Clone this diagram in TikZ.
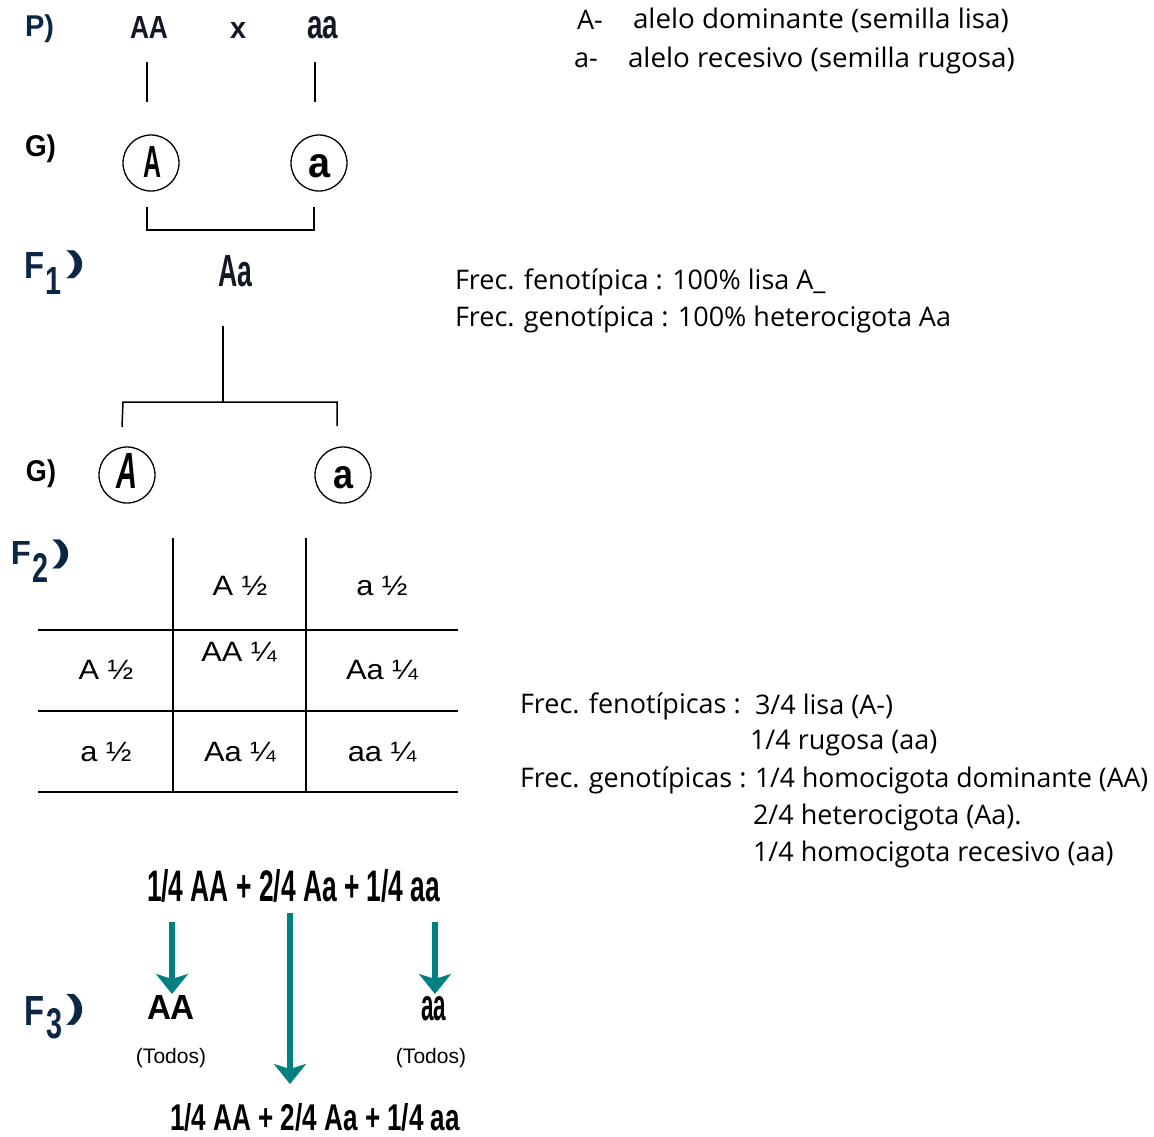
\documentclass[tikz,border=0pt]{standalone}
\usepackage{fontspec}
\usepackage{graphicx}
\setmainfont{Liberation Sans}
\setsansfont{Liberation Sans}
\newfontfamily\comic{Open Sans}
\usetikzlibrary{arrows.meta}
\definecolor{navy}{RGB}{12,38,70}
\definecolor{darkt}{RGB}{18,24,36}
\definecolor{teal2}{RGB}{0,128,128}
\newcommand{\fitb}[3]{\resizebox{#1pt}{#2pt}{\bfseries #3}}
\newcommand{\fitt}[3]{\resizebox*{#1pt}{#2pt}{\bfseries #3}}
\newcommand{\tb}[1]{\scalebox{1.1}[1]{#1}}
\tikzset{
  lbl/.style={inner sep=0pt, outer sep=0pt, anchor=north west},
  rtxt/.style={inner sep=0pt, outer sep=0pt, anchor=west, font=\comic\fontsize{27}{27}\selectfont},
  tcell/.style={inner sep=0pt, outer sep=0pt, anchor=center, font=\fontsize{28}{28}\selectfont},
  gam/.style={circle, draw, line width=1.3pt, minimum size=56pt, inner sep=0pt},
  thin/.style={line width=1.5pt},
  tarr/.style={draw=teal2, line width=6pt, -{Stealth[length=20pt,width=32pt,inset=5pt]}}
}
\begin{document}
\begin{tikzpicture}[x=1pt,y=-1pt]
\path[use as bounding box, fill=white] (0,0) rectangle (1154,1136);

% ---- P row
\node[lbl, text=navy] (P) at (25,15) {\fitt{29}{28}{P)}};
\node[lbl, text=darkt] (PAA) at (130,16) {\fitb{38}{22}{AA}};
\node[lbl, text=darkt] (Px) at (230,22) {\fitb{16}{16}{x}};
\node[lbl, text=darkt] (Paa) at (307,16) {\fitb{31}{22}{aa}};
\coordinate (p1t) at (147,62); \coordinate (p1b) at (147,102);
\coordinate (p2t) at (315,62); \coordinate (p2b) at (315,102);
\draw[thin] (p1t) -- (p1b);
\draw[thin] (p2t) -- (p2b);

% ---- G row 1
\node[lbl] (G1) at (25,135) {\fitt{31}{28}{G)}};
\node[gam] (cA1) at (151,163) {};
\node[gam] (ca1) at (319,163) {};
\node[lbl] (A1) at (143,146) {\fitb{18}{31}{A}};
\node[lbl] (a1) at (308,154) {\fitb{22}{23}{a}};
\coordinate (b1) at (147,207); \coordinate (b2) at (147,230);
\coordinate (b3) at (314,230); \coordinate (b4) at (314,207);
\draw[thin] (b1) -- (b2) -- (b3) -- (b4);

% ---- F1
\node[lbl, text=navy] (F1F) at (25,252) {\fitb{20}{26}{F}};
\node[lbl, text=navy] (F1n) at (45,267) {\fitb{16}{27}{1}};
\node[lbl, text=navy] (F1p) at (66,251) {\fitt{19}{28}{)}};
\node[lbl, text=darkt] (Aa) at (218,255) {\fitb{34}{31}{Aa}};
\coordinate (v1) at (223,326); \coordinate (v2) at (223,402);
\coordinate (hl) at (123,402); \coordinate (hr) at (337,402);
\coordinate (dl) at (122,427); \coordinate (dr) at (337,426);
\draw[thin] (v1) -- (v2);
\draw[thin] (dl) -- (hl) -- (hr) -- (dr);

% ---- G row 2
\node[lbl] (G2) at (26,460) {\fitt{30}{28}{G)}};
\node[gam] (cA2) at (127,475) {};
\node[gam] (ca2) at (343,475) {};
\node[lbl] (A2) at (116,453) {\fitb{21}{35}{\itshape A}};
\node[lbl] (a2) at (333,466) {\fitb{20}{22}{a}};

% ---- F2 and table
\node[lbl, text=navy] (F2F) at (11,541) {\fitb{20}{23}{F}};
\node[lbl, text=navy] (F2n) at (32,553) {\fitb{16}{29}{2}};
\node[lbl, text=navy] (F2p) at (52,540) {\fitt{19}{29}{)}};
\coordinate (t1a) at (173,538); \coordinate (t1b) at (173,792);
\coordinate (t2a) at (306,538); \coordinate (t2b) at (306,792);
\coordinate (r1a) at (38,630); \coordinate (r1b) at (458,630);
\coordinate (r2a) at (38,711); \coordinate (r2b) at (458,711);
\coordinate (r3a) at (38,792); \coordinate (r3b) at (458,792);
\draw[thin] (t1a) -- (t1b);
\draw[thin] (t2a) -- (t2b);
\draw[thin] (r1a) -- (r1b);
\draw[thin] (r2a) -- (r2b);
\draw[thin] (r3a) -- (r3b);
\node[tcell] (h1) at (240,586) {\tb{A ½}};
\node[tcell] (h2) at (382,586) {\tb{a ½}};
\node[tcell] (s1) at (106,670) {\tb{A ½}};
\node[tcell] (c11) at (239,652) {\tb{AA ¼}};
\node[tcell] (c12) at (382,670) {\tb{Aa ¼}};
\node[tcell] (s2) at (106,752) {\tb{a ½}};
\node[tcell] (c21) at (240,752) {\tb{Aa ¼}};
\node[tcell] (c22) at (382,752) {\tb{aa ¼}};

% ---- F3
\node[lbl] (eq1) at (147,869) {\fitb{293}{32}{1/4 AA + 2/4 Aa + 1/4 aa}};
\coordinate (a1s) at (172,922); \coordinate (a1e) at (172,994);
\coordinate (a2s) at (290,913); \coordinate (a2e) at (290,1084);
\coordinate (a3s) at (435,922); \coordinate (a3e) at (435,994);
\draw[tarr] (a1s) -- (a1e);
\draw[tarr] (a2s) -- (a2e);
\draw[tarr] (a3s) -- (a3e);
\node[lbl, text=navy] (F3F) at (25,996) {\fitb{20}{29}{F}};
\node[lbl, text=navy] (F3n) at (46,1008) {\fitb{16}{30}{3}};
\node[lbl, text=navy] (F3p) at (66,994) {\fitt{19}{31}{)}};
\node[lbl] (AA3) at (147,995) {\fitb{48}{24}{AA}};
\node[lbl] (aa3) at (421,996) {\fitb{25}{24}{aa}};
\node[inner sep=0pt, font=\fontsize{21}{21}\selectfont] (td1) at (171,1058) {(Todos)};
\node[inner sep=0pt, font=\fontsize{21}{21}\selectfont] (td2) at (431,1058) {(Todos)};
\node[lbl] (eq2) at (170,1103) {\fitb{290}{27}{1/4 AA + 2/4 Aa + 1/4 aa}};

% ---- right texts
\node[rtxt] (k1) at (577,20) {A-};
\node[rtxt] (k1t) at (633,20) {\scalebox{1.03}[1]{alelo dominante (semilla lisa)}};
\node[rtxt] (k2) at (574,60) {a-};
\node[rtxt] (k2t) at (628,60) {\scalebox{1.03}[1]{alelo recesivo (semilla rugosa)}};
\node[rtxt] (f1a) at (455,282) {Frec. fenotípica : 100\% lisa A\_};
\node[rtxt] (f1b) at (455,319) {Frec. genotípica : 100\% heterocigota Aa};
\node[rtxt] (f2a) at (520,706) {Frec. fenotípicas :};
\node[rtxt] (f2av) at (755,706) {3/4 lisa (A-)};
\node[rtxt] (f2b) at (750,743) {1/4 rugosa (aa)};
\node[rtxt] (f2c) at (520,780) {Frec. genotípicas :};
\node[rtxt] (f2cv) at (755,780) {\scalebox{0.985}[1]{1/4 homocigota dominante (AA)}};
\node[rtxt] (f2d) at (753,817) {2/4 heterocigota (Aa).};
\node[rtxt] (f2e) at (753,854) {1/4 homocigota recesivo (aa)};
\end{tikzpicture}
\end{document}
